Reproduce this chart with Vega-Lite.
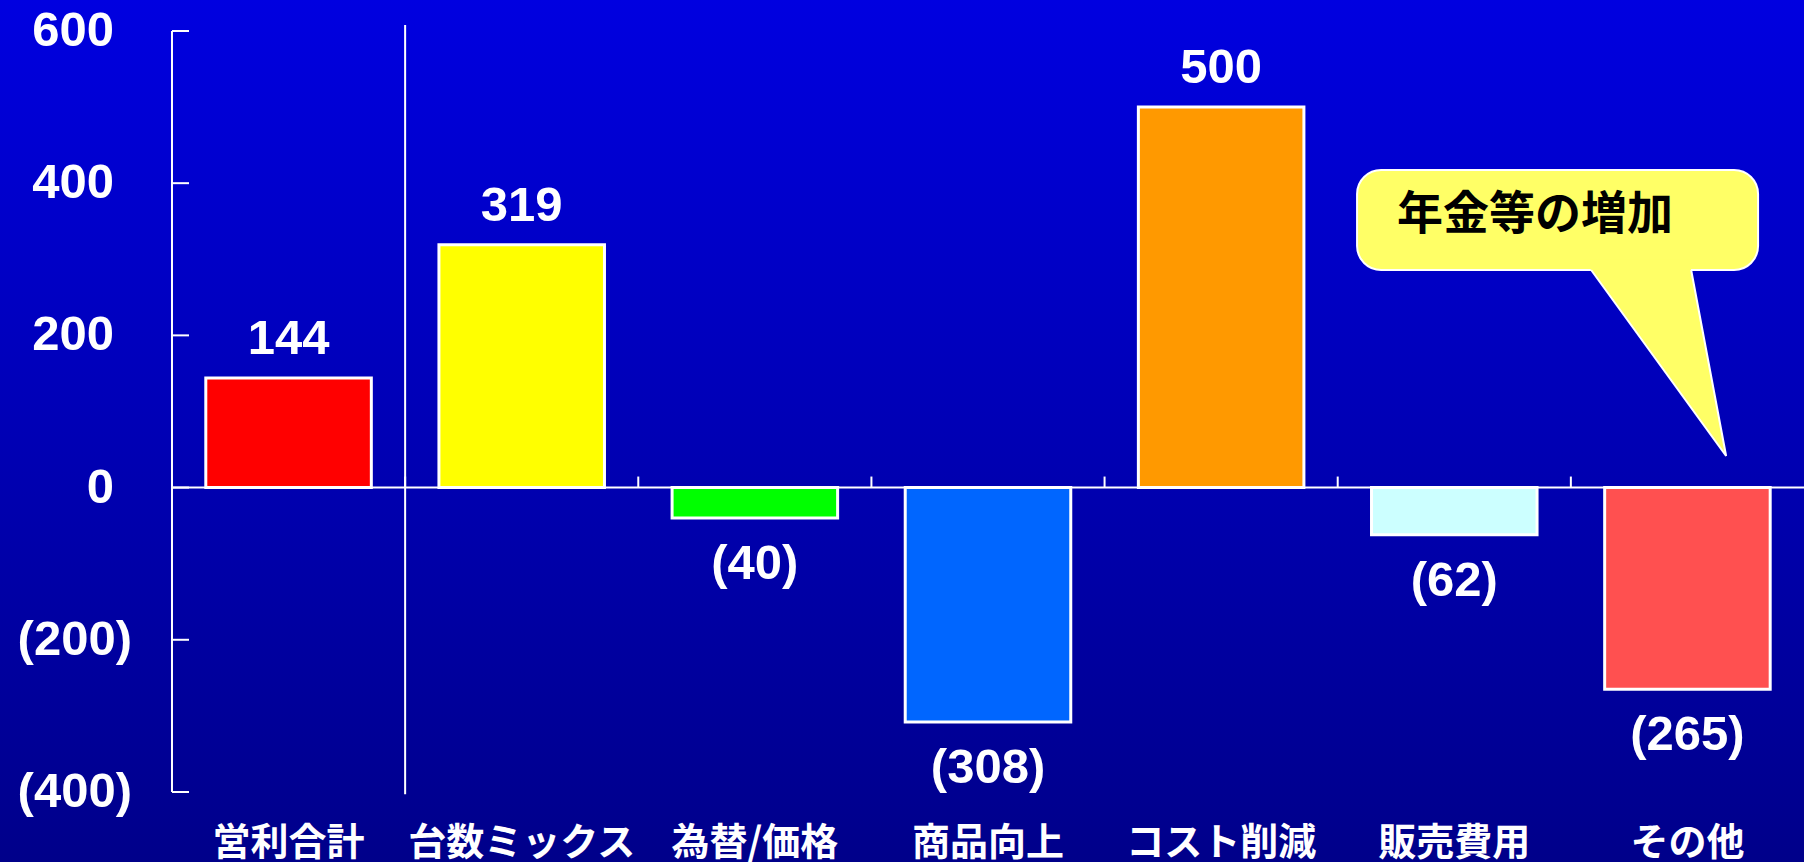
{
  "$schema": "https://vega.github.io/schema/vega-lite/v6.json",
  "width": 1804,
  "height": 862,
  "autosize": {"type": "none"},
  "padding": 0,
  "background": "#0000B4",
  "config": {
    "view": {
      "stroke": null,
      "fill": {"gradient": "linear", "x1": 0, "y1": 0, "x2": 0, "y2": 1,
        "stops": [{"offset": 0, "color": "#0000E0"}, {"offset": 1, "color": "#00008A"}]}
    }
  },
  "datasets": {
    "bars": [
      {"item": "営利合計", "value": 144, "label": "144"},
      {"item": "台数ミックス", "value": 319, "label": "319"},
      {"item": "為替/価格", "value": -40, "label": "(40)"},
      {"item": "商品向上", "value": -308, "label": "(308)"},
      {"item": "コスト削減", "value": 500, "label": "500"},
      {"item": "販売費用", "value": -62, "label": "(62)"},
      {"item": "その他", "value": -265, "label": "(265)"}
    ],
    "yticks": [
      {"v": 600, "t": "600"},
      {"v": 400, "t": "400"},
      {"v": 200, "t": "200"},
      {"v": 0, "t": "0"},
      {"v": -200, "t": "(200)"},
      {"v": -400, "t": "(400)"}
    ],
    "box": [{"x1": 5.083, "x2": 6.803, "y1": 417.3, "y2": 285.9, "t": "年金等の増加", "tx": 5.846, "ty": 358}],
    "tail": [
      {"bx": 6.0536, "by": 300, "by2": 300},
      {"bx": 6.507, "by": 300, "by2": 108.6},
      {"bx": 6.666, "by": 41.5, "by2": 41.5}
    ],
    "edges": [
      {"o": 1, "lx": 6.087, "ly": 285.9},
      {"o": 2, "lx": 6.666, "ly": 41.5},
      {"o": 3, "lx": 6.516, "ly": 285.9}
    ]
  },
  "resolve": {"scale": {"x": "independent"}},
  "layer": [
    {
      "data": {"name": "bars"},
      "layer": [
        {
          "mark": {"type": "bar", "width": {"band": 0.71}, "stroke": "white", "strokeWidth": 3},
          "encoding": {
            "x": {"field": "item", "type": "nominal", "sort": null, "title": null, "axis": null,
              "scale": {"type": "band", "domain": ["営利合計", "台数ミックス", "為替/価格", "商品向上", "コスト削減", "販売費用", "その他"], "paddingInner": 0, "paddingOuter": 0.36885, "align": 1}},
            "y": {"field": "value", "type": "quantitative", "title": null, "axis": null,
              "scale": {"domain": [-492, 640.7], "nice": false, "zero": false}},
            "color": {"field": "item", "type": "nominal", "legend": null,
              "scale": {"domain": ["営利合計", "台数ミックス", "為替/価格", "商品向上", "コスト削減", "販売費用", "その他"], "range": ["#FF0000", "#FFFF00", "#00FF00", "#0066FF", "#FF9900", "#CCFFFF", "#FF5050"]}}
          }
        },
        {
          "transform": [{"filter": "datum.value >= 0"}],
          "mark": {"type": "text", "dy": -39, "color": "white", "font": "Liberation Sans", "fontWeight": "bold", "fontSize": 49, "baseline": "middle", "align": "center"},
          "encoding": {
            "x": {"field": "item", "type": "nominal", "sort": null, "axis": null},
            "y": {"field": "value", "type": "quantitative", "axis": null},
            "text": {"field": "label"}
          }
        },
        {
          "transform": [{"filter": "datum.value < 0"}],
          "mark": {"type": "text", "dy": 46, "color": "white", "font": "Liberation Sans", "fontWeight": "bold", "fontSize": 49, "baseline": "middle", "align": "center"},
          "encoding": {
            "x": {"field": "item", "type": "nominal", "sort": null, "axis": null},
            "y": {"field": "value", "type": "quantitative", "axis": null},
            "text": {"field": "label"}
          }
        },
        {
          "mark": {"type": "text", "color": "white", "font": "Noto Sans CJK JP", "fontWeight": "bold", "fontSize": 38, "baseline": "top", "align": "center"},
          "encoding": {
            "x": {"field": "item", "type": "nominal", "sort": null, "axis": null},
            "y": {"datum": -444, "type": "quantitative", "axis": null},
            "text": {"field": "item"}
          }
        },
        {
          "mark": {"type": "rule", "color": "white", "strokeWidth": 2},
          "encoding": {
            "x": {"field": "item", "type": "nominal", "sort": null, "bandPosition": 0, "axis": null},
            "y": {"datum": 0, "type": "quantitative", "axis": null},
            "y2": {"datum": 14.5}
          }
        },
        {
          "data": {"name": "yticks"},
          "mark": {"type": "rule", "color": "white", "strokeWidth": 2},
          "encoding": {
            "x": {"datum": "営利合計", "type": "nominal", "bandPosition": 0, "axis": null},
            "x2": {"datum": "営利合計", "bandPosition": 0.073},
            "y": {"field": "v", "type": "quantitative", "axis": null}
          }
        },
        {
          "data": {"name": "yticks"},
          "transform": [{"filter": "datum.v >= 0"}],
          "mark": {"type": "text", "dx": -58, "color": "white", "font": "Liberation Sans", "fontWeight": "bold", "fontSize": 49, "baseline": "middle", "align": "right"},
          "encoding": {
            "x": {"datum": "営利合計", "type": "nominal", "bandPosition": 0, "axis": null},
            "y": {"field": "v", "type": "quantitative", "axis": null},
            "text": {"field": "t"}
          }
        },
        {
          "data": {"name": "yticks"},
          "transform": [{"filter": "datum.v < 0"}],
          "mark": {"type": "text", "dx": -40, "color": "white", "font": "Liberation Sans", "fontWeight": "bold", "fontSize": 49, "baseline": "middle", "align": "right"},
          "encoding": {
            "x": {"datum": "営利合計", "type": "nominal", "bandPosition": 0, "axis": null},
            "y": {"field": "v", "type": "quantitative", "axis": null},
            "text": {"field": "t"}
          }
        },
        {
          "data": {"values": [{}]},
          "mark": {"type": "rule", "color": "white", "strokeWidth": 2},
          "encoding": {
            "x": {"datum": "台数ミックス", "type": "nominal", "bandPosition": 0, "axis": null},
            "y": {"datum": 608, "type": "quantitative", "axis": null},
            "y2": {"datum": -403}
          }
        },
        {
          "data": {"values": [{}]},
          "mark": {"type": "rule", "color": "white", "strokeWidth": 2},
          "encoding": {
            "x": {"datum": "営利合計", "type": "nominal", "bandPosition": 0, "axis": null},
            "y": {"datum": 600, "type": "quantitative", "axis": null},
            "y2": {"datum": -400}
          }
        },
        {
          "data": {"values": [{}]},
          "mark": {"type": "rule", "color": "white", "strokeWidth": 2},
          "encoding": {
            "x": {"datum": "営利合計", "type": "nominal", "bandPosition": 0, "axis": null},
            "x2": {"datum": "その他", "bandPosition": 1},
            "y": {"datum": 0, "type": "quantitative", "axis": null}
          }
        }
      ]
    },
    {
      "layer": [
        {
          "data": {"name": "box"},
          "mark": {"type": "rect", "fill": "#FFFF66", "stroke": "white", "strokeWidth": 2, "cornerRadius": 24},
          "encoding": {
            "x": {"field": "x1", "type": "quantitative", "axis": null, "scale": {"domain": [-0.7377, 7], "nice": false, "zero": false}},
            "x2": {"field": "x2"},
            "y": {"field": "y1", "type": "quantitative", "axis": null},
            "y2": {"field": "y2"}
          }
        },
        {
          "data": {"name": "tail"},
          "mark": {"type": "area", "color": "#FFFF66", "interpolate": "linear", "orient": "vertical"},
          "encoding": {
            "x": {"field": "bx", "type": "quantitative", "axis": null},
            "y": {"field": "by", "type": "quantitative", "axis": null},
            "y2": {"field": "by2"}
          }
        },
        {
          "data": {"name": "edges"},
          "mark": {"type": "line", "color": "white", "strokeWidth": 2},
          "encoding": {
            "x": {"field": "lx", "type": "quantitative", "axis": null},
            "y": {"field": "ly", "type": "quantitative", "axis": null},
            "order": {"field": "o"}
          }
        },
        {
          "data": {"name": "box"},
          "mark": {"type": "text", "color": "black", "font": "Noto Sans CJK JP", "fontWeight": "bold", "fontSize": 46, "align": "center", "baseline": "middle"},
          "encoding": {
            "x": {"field": "tx", "type": "quantitative", "axis": null},
            "y": {"field": "ty", "type": "quantitative", "axis": null},
            "text": {"field": "t"}
          }
        }
      ]
    }
  ]
}
